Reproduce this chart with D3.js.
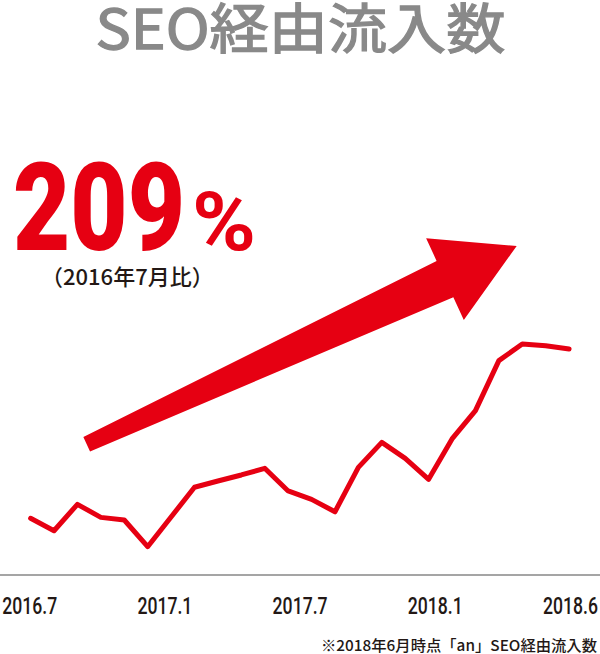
<!DOCTYPE html>
<html>
<head>
<meta charset="utf-8">
<script src="https://cdn.jsdelivr.net/npm/d3@7"></script>
<style>
  body { margin: 0; background: #fff; }
  svg { display: block; }
</style>
</head>
<body>
<div class="canvas"></div>
<script>
// data: monthly SEO inflow, indexed to 2016.7 = 100
const months = ['2016.7','2016.8','2016.9','2016.10','2016.11','2016.12',
                '2017.1','2017.2','2017.3','2017.4','2017.5','2017.6',
                '2017.7','2017.8','2017.9','2017.10','2017.11','2017.12',
                '2018.1','2018.2','2018.3','2018.4','2018.5','2018.6'];
const values = [100, 92.0, 109.0, 100.6, 98.9, 81.7,
                100.8, 120.0, 124.0, 127.9, 132.2, 117.6,
                112.2, 104.2, 132.8, 148.9, 138.6, 125.1,
                151.1, 169.3, 201.5, 212.2, 211.1, 209.0];
const tickLabels = ['2016.7', '2017.1', '2017.7', '2018.1', '2018.6'];

const red = '#e60012';
const width = 600;
const height = 654;

const svg = d3.select('.canvas')
              .append('svg')
              .attr('width', width)
              .attr('height', height);

// title (regular weight + thin stroke to get a medium look)
svg.append('text')
   .attr('x', 300.5)
   .attr('y', 49)
   .attr('text-anchor', 'middle')
   .attr('font-family', '"Noto Sans CJK JP", "Noto Sans", sans-serif')
   .attr('font-weight', 400)
   .attr('font-size', 54)
   .attr('fill', '#898989')
   .attr('stroke', '#898989')
   .attr('stroke-width', 1.3)
   .attr('textLength', 410)
   .attr('lengthAdjust', 'spacingAndGlyphs')
   .text('SEO経由流入数');

// big number
svg.append('text')
   .attr('x', 13)
   .attr('y', 250)
   .attr('font-family', 'Roboto, sans-serif')
   .attr('font-weight', 900)
   .attr('font-size', 122)
   .attr('fill', red)
   .attr('textLength', 172)
   .attr('lengthAdjust', 'spacingAndGlyphs')
   .text('209');

svg.append('text')
   .attr('x', 192)
   .attr('y', 250)
   .attr('font-family', 'Roboto, sans-serif')
   .attr('font-weight', 700)
   .attr('font-size', 82)
   .attr('fill', red)
   .attr('textLength', 64)
   .attr('lengthAdjust', 'spacingAndGlyphs')
   .text('%');

svg.append('text')
   .attr('x', 41)
   .attr('y', 285)
   .attr('font-family', '"Noto Sans CJK JP", sans-serif')
   .attr('font-weight', 500)
   .attr('font-size', 22)
   .attr('fill', '#231815')
   .text('（2016年7月比）');

// scales
const x = d3.scalePoint()
            .domain(months)
            .range([30.6, 569.1]);
const y = d3.scaleLinear()
            .domain([100, 209])
            .range([518.3, 349]);
const xLabels = d3.scalePoint()
                  .domain(tickLabels)
                  .range([29.2, 570]);

// baseline
const axisY = 575;
svg.append('line')
   .attr('x1', 0)
   .attr('x2', width)
   .attr('y1', axisY)
   .attr('y2', axisY)
   .attr('stroke', '#a5a5a5')
   .attr('stroke-width', 2);

// x axis labels
const xAxis = d3.axisBottom(xLabels).tickSize(0).tickPadding(0);
const xAxisGroup = svg.append('g')
                      .attr('transform', `translate(0, ${axisY})`)
                      .call(xAxis);
xAxisGroup.select('.domain').remove();
xAxisGroup.selectAll('text')
          .attr('y', 39)
          .attr('dy', 0)
          .attr('font-family', 'Roboto, sans-serif')
          .attr('font-weight', 500)
          .attr('font-size', 23)
          .attr('fill', '#231815')
          .attr('textLength', 55)
          .attr('lengthAdjust', 'spacingAndGlyphs');

// arrow (decoration)
const arrowLen = 473.5, headLen = 79, headHalf = 45, tailHalf = 8, neckHalf = 20;
const neck = arrowLen - headLen;
const arrowPts = [[0, -tailHalf], [neck, -neckHalf], [neck, -headHalf], [arrowLen, 0],
                  [neck, headHalf], [neck, neckHalf], [0, tailHalf]];
svg.append('path')
   .attr('d', d3.line()(arrowPts) + 'Z')
   .attr('fill', red)
   .attr('transform', 'translate(86.7, 444.2) rotate(-24.75)');

// line
const line = d3.line()
               .x((d, i) => x(months[i]))
               .y(d => y(d));
svg.append('path')
   .datum(values)
   .attr('d', line)
   .attr('fill', 'none')
   .attr('stroke', red)
   .attr('stroke-width', 5)
   .attr('stroke-linejoin', 'round')
   .attr('stroke-linecap', 'round');

// footnote
svg.append('text')
   .attr('x', 597)
   .attr('y', 651)
   .attr('text-anchor', 'end')
   .attr('font-family', '"Noto Sans CJK JP", sans-serif')
   .attr('font-weight', 500)
   .attr('font-size', 15)
   .attr('fill', '#231815')
   .attr('textLength', 276)
   .attr('lengthAdjust', 'spacingAndGlyphs')
   .text('※2018年6月時点「an」SEO経由流入数');
</script>
</body>
</html>
